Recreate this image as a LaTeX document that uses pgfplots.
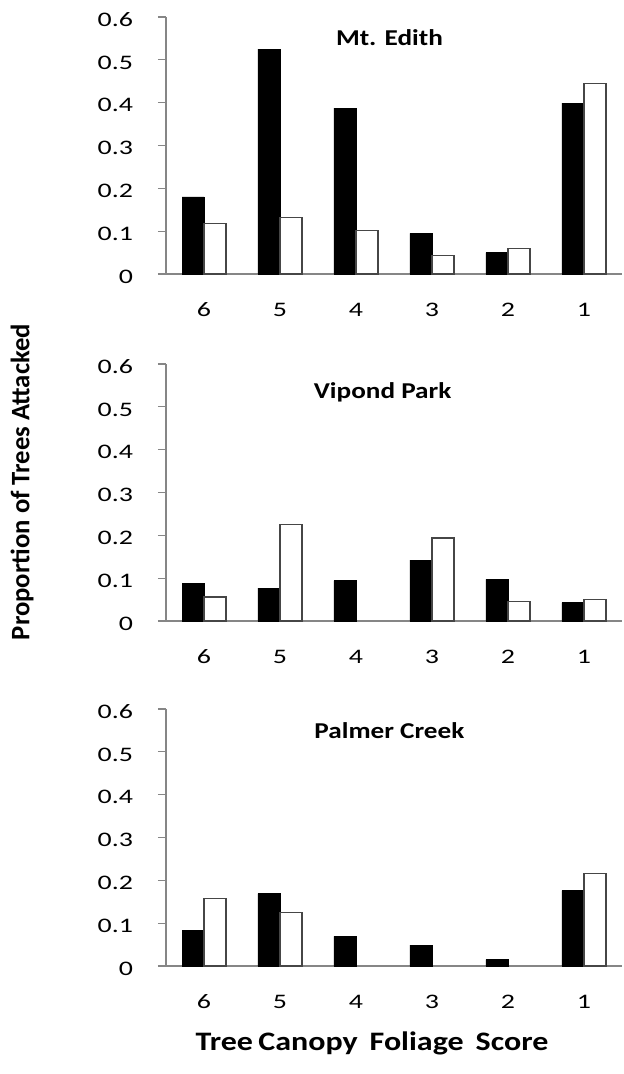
\documentclass[border=0pt]{standalone}
\usepackage{fontspec}
\setmainfont{Carlito}[FakeStretch=1.2]
\newfontfamily\tickfont{Carlito}[FakeStretch=1.35]
\newfontfamily\ylabfont{Carlito}
\usepackage{pgfplots}
\pgfplotsset{compat=1.18}

\definecolor{axisgray}{RGB}{134,134,134}
\definecolor{edgegray}{RGB}{70,70,70}

\tikzset{ttl/.style={font=\bfseries\fontsize{17}{20}\selectfont, anchor=base}}

\pgfplotsset{
  panel/.style={
    width=342pt, height=192.75pt, scale only axis,
    ybar=0pt, bar width=16.5pt,
    xmin=-0.5, xmax=5.5, ymin=0, ymax=0.6,
    ytick={0,0.1,0.2,0.3,0.4,0.5,0.6},
    yticklabels={0,0.1,0.2,0.3,0.4,0.5,0.6},
    xtick={0,1,2,3,4,5},
    xticklabels={6,5,4,3,2,1},
    axis lines=left,
    axis line style={-, draw=axisgray, line width=0.9pt},
    tick align=outside, major tick length=6pt,
    ytick style={draw=axisgray, line width=0.9pt},
    xtick style={draw=none},
    tick label style={font=\tickfont\fontsize{15.5}{18}\selectfont, text=black},
    y tick label style={anchor=east, inner sep=0pt, xshift=-18.5pt, yshift=-2pt},
    x tick label style={anchor=base, inner sep=0pt, yshift=-26pt},
    clip=false,
  },
  dark/.style={fill=black, draw=black, line width=0.5pt},
  light/.style={fill=white, draw=edgegray, line width=0.9pt},
}

\begin{document}
\begin{tikzpicture}
\useasboundingbox (-124.5pt,12.75pt) rectangle (343.5pt,-792.75pt);

% Mt. Edith
\begin{axis}[panel, at={(0pt,0pt)}, anchor=north west]
  \addplot[dark] coordinates {(0,0.180) (1,0.525) (2,0.387) (3,0.095) (4,0.050) (5,0.399)};
  \addplot[light] coordinates {(0,0.118) (1,0.132) (2,0.101) (3,0.043) (4,0.060) (5,0.445)};
  \node[ttl] at (rel axis cs:0.49,0.891) {Mt. Edith};
\end{axis}

% Vipond Park
\begin{axis}[panel, at={(0pt,-260.25pt)}, anchor=north west]
  \addplot[dark] coordinates {(0,0.087) (1,0.077) (2,0.094) (3,0.142) (4,0.097) (5,0.043)};
  \addplot[light] coordinates {(0,0.056) (1,0.226) (3,0.194) (4,0.046) (5,0.050)};
  \node[ttl] at (rel axis cs:0.475,0.867) {Vipond Park};
\end{axis}

% Palmer Creek
\begin{axis}[panel, at={(0pt,-519pt)}, anchor=north west]
  \addplot[dark] coordinates {(0,0.083) (1,0.169) (2,0.069) (3,0.049) (4,0.015) (5,0.176)};
  \addplot[light] coordinates {(0,0.157) (1,0.124) (5,0.216)};
  \node[ttl] at (rel axis cs:0.49,0.887) {Palmer Creek};
\end{axis}

% shared axis titles
\node[rotate=90, font=\ylabfont\bfseries\fontsize{20}{24}\selectfont] at (-108pt,-348.75pt) {Proportion of Trees Attacked};
\node[anchor=base, font=\bfseries\fontsize{20}{24}\selectfont] at (154.5pt,-774.75pt)
  {Tree\kern0.2em Canopy\hspace{0.45em}Foliage\hspace{0.45em}Score};
\end{tikzpicture}
\end{document}
